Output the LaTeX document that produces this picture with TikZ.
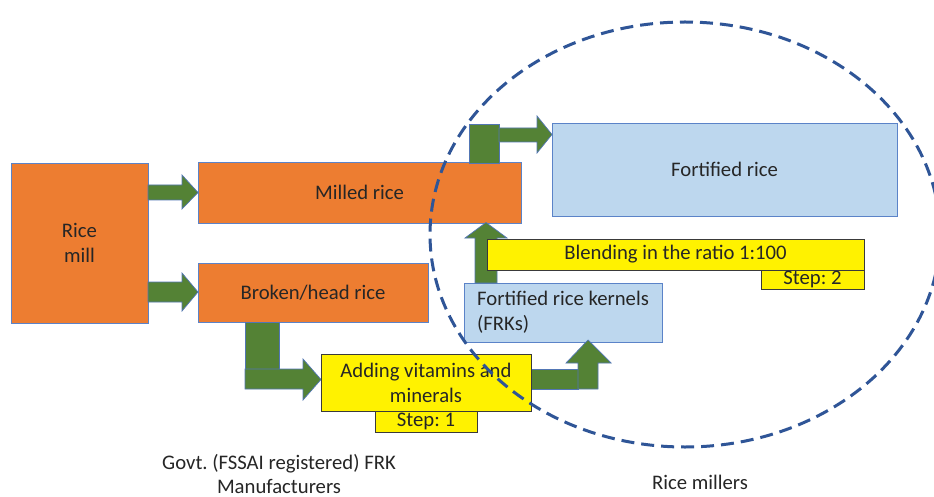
\documentclass[tikz,border=0pt]{standalone}
\usepackage{fontspec}
\setmainfont{Carlito}
\frenchspacing
\definecolor{orng}{HTML}{ED7D31}
\definecolor{lblue}{HTML}{BDD7EE}
\definecolor{grn}{HTML}{548235}
\definecolor{bord}{HTML}{5B83C8}
\definecolor{ybord}{HTML}{3A3A3A}
\definecolor{ellcol}{HTML}{2F5597}
\definecolor{txt}{HTML}{262626}
\tikzset{
  x=1pt, y=-1pt,
  base/.style={font=\fontsize{20.7}{25}\selectfont, text=txt, align=center, line width=0.9pt, inner sep=2pt},
  orangebox/.style={base, draw=bord, fill=orng},
  bluebox/.style={base, draw=bord, fill=lblue},
  yellowbox/.style={base, draw=ybord, fill=yellow, line width=1pt, inner ysep=0pt, text height=13pt, text depth=3pt},
  greenshape/.style={fill=grn, draw=bord!90!black, line width=0.7pt, line join=miter},
  plainlabel/.style={font=\fontsize{20.7}{24}\selectfont, text=txt, align=center, inner sep=0pt},
  ringstyle/.style={draw=ellcol, line width=3pt, dash pattern=on 13pt off 7pt}
}
\begin{document}
\begin{tikzpicture}
\useasboundingbox[fill=white] (0,0) rectangle (934,497);
% orange boxes
\node (mill) [orangebox, minimum width=137pt, minimum height=160pt] at (79.5,243) {Rice\\mill};
\node (milled) [orangebox, minimum width=323pt, minimum height=61pt] at (359.5,192.5) {Milled rice};
\node (broken) [orangebox, minimum width=230pt, minimum height=59pt] at (313,292.5) {Broken/head rice};
% light blue boxes
\node (fort) [bluebox, minimum width=345pt, minimum height=93pt] at (724.5,169.5) {Fortified rice};
\node (frk) [bluebox, align=left, minimum width=198pt, minimum height=59pt] at (563,312.5) {Fortified rice kernels\\(FRKs)};
% green arrows
\draw[greenshape] (148,185) -- (182,185) -- (182,175) -- (198,192.5) -- (182,209) -- (182,200) -- (148,200) -- cycle;
\draw[greenshape] (148,282) -- (182,282) -- (182,273) -- (198,292) -- (182,311) -- (182,302) -- (148,302) -- cycle;
\draw[greenshape] (245,322) rectangle (279,369);
\draw[greenshape] (245,369) -- (303,369) -- (303,359) -- (321,379.5) -- (303,400) -- (303,389) -- (245,389) -- cycle;
\draw[greenshape] (531,369) rectangle (578,389);
\draw[greenshape] (578,389) -- (578,363) -- (566,363) -- (588,340) -- (611,363) -- (598,363) -- (598,389) -- cycle;
\draw[greenshape] (475,283) -- (475,238) -- (465,238) -- (486,222.5) -- (507,238) -- (497,238) -- (497,283) -- cycle;
\draw[greenshape] (469,124) rectangle (499,163);
\draw[greenshape] (499,128) -- (537,128) -- (537,116) -- (552,134.5) -- (537,153) -- (537,142) -- (499,142) -- cycle;
% yellow boxes
\node (adding) [base, draw=ybord, fill=yellow, line width=1pt, minimum width=210pt, minimum height=57pt, inner ysep=1pt] at (426,382.5) {Adding vitamins and\\minerals};
\node (step1) [yellowbox, minimum width=102pt, minimum height=21pt] at (426,421.5) {Step: 1};
\node (blend) [yellowbox, minimum width=377pt, minimum height=31pt] at (675.5,254.5) {Blending in the ratio 1:100};
\node (step2) [yellowbox, minimum width=103pt, minimum height=19pt] at (812.5,279.5) {Step: 2};
% labels
\node (govt) [plainlabel] at (279,474) {Govt. (FSSAI registered) FRK\\Manufacturers};
\node (millers) [plainlabel] at (700,482) {Rice millers};
% dashed ring
\draw[ringstyle] (685,234.5) ellipse [x radius=255pt, y radius=212.5pt];
\end{tikzpicture}
\end{document}
